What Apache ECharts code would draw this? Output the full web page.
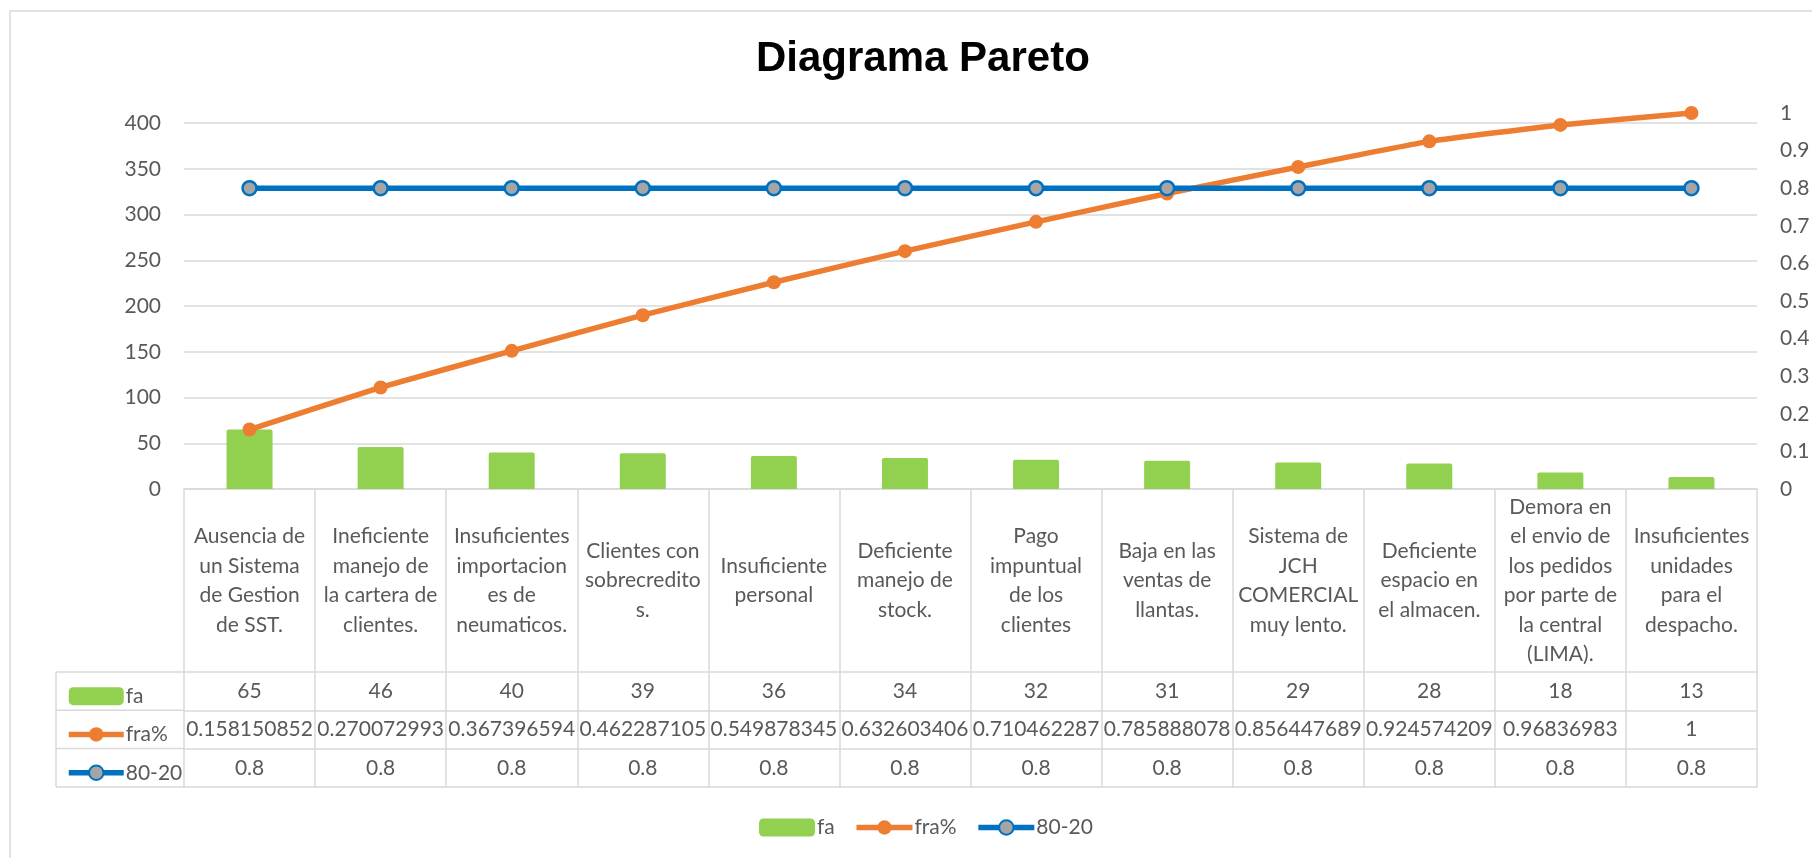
<!DOCTYPE html>
<html>
<head>
<meta charset="utf-8">
<title>Diagrama Pareto</title>
<script src="https://cdn.jsdelivr.net/npm/echarts@6/dist/echarts.min.js"></script>
<style>
    html, body { margin: 0; padding: 0; background: #fff; }
    #main { width: 1812px; height: 858px; }
</style>
</head>
<body>
<div id="main"></div>
<script>
// categorias, con los saltos de linea tal como salen en la tabla de Excel
const categorias = [
    'Ausencia de\nun Sistema\nde Gestion\nde SST.',
    'Ineficiente\nmanejo de\nla cartera de\nclientes.',
    'Insuficientes\nimportacion\nes de\nneumaticos.',
    'Clientes con\nsobrecredito\ns.',
    'Insuficiente\npersonal',
    'Deficiente\nmanejo de\nstock.',
    'Pago\nimpuntual\nde los\nclientes',
    'Baja en las\nventas de\nllantas.',
    'Sistema de\nJCH\nCOMERCIAL\nmuy lento.',
    'Deficiente\nespacio en\nel almacen.',
    'Demora en\nel envio de\nlos pedidos\npor parte de\nla central\n(LIMA).',
    'Insuficientes\nunidades\npara el\ndespacho.'
]
const fa = [65, 46, 40, 39, 36, 34, 32, 31, 29, 28, 18, 13]
const fraPct = [0.158150852, 0.270072993, 0.367396594, 0.462287105, 0.549878345, 0.632603406,
    0.710462287, 0.785888078, 0.856447689, 0.924574209, 0.96836983, 1]
const linea8020 = [0.8, 0.8, 0.8, 0.8, 0.8, 0.8, 0.8, 0.8, 0.8, 0.8, 0.8, 0.8]
const nombresSeries = ['fa', 'fra%', '80-20']

// el eje izquierdo llega hasta el total de fa (asi 1 del eje derecho = total)
const totalFa = fa.reduce((a, b) => a + b, 0)

const FUENTE = 'Lato, Roboto, sans-serif'
const GRIS = '#595959'
const BORDE = '#d9d9d9'
const GROSOR = 5.5

// medidas de la tabla de datos bajo el grafico
const gLeft = 184, gRight = 1757, gTop = 113, gBottom = 489
const tablaLeft = 56
const altoCat = 183      // celda de las categorias
const altoFila = 38.3    // filas fa / fra% / 80-20
const filas = [fa, fraPct, linea8020]

function ejeFila(offset, valores) {
    return {
        type: 'category',
        position: 'bottom',
        offset: offset,
        data: categorias,
        axisLine: { show: true, onZero: false, lineStyle: { color: BORDE, width: 1.5 } },
        axisTick: { show: false },
        axisLabel: {
            show: !!valores,
            interval: 0,
            margin: altoFila / 2,
            verticalAlign: 'middle',
            fontFamily: FUENTE,
            fontSize: 21,
            color: GRIS,
            formatter: (v, i) => valores ? String(valores[i]) : ''
        }
    }
}

const ejesTabla = filas.map((f, i) => ejeFila(altoCat + i * altoFila, f))
ejesTabla.push(ejeFila(altoCat + 3 * altoFila, null))

// lineas de la columna de nombres de la tabla
const lineasCabecera = []
for (let i = 0; i <= 3; i++) {
    const y = gBottom + altoCat + i * altoFila
    lineasCabecera.push({
        type: 'line',
        shape: { x1: tablaLeft, y1: y, x2: gLeft, y2: y },
        style: { stroke: BORDE, lineWidth: 1.5 }
    })
}
lineasCabecera.push({
    type: 'line',
    shape: { x1: tablaLeft, y1: gBottom + altoCat, x2: tablaLeft, y2: gBottom + altoCat + 3 * altoFila },
    style: { stroke: BORDE, lineWidth: 1.5 }
})

const chart = echarts.init(document.getElementById('main'), null, { renderer: 'canvas' })

const estiloLeyenda = {
    itemHeight: 18,
    selectedMode: false,
    data: nombresSeries,
    lineStyle: { width: GROSOR },
    textStyle: { fontFamily: FUENTE, fontSize: 21, color: GRIS, padding: [0, 0, 0, -3] }
}

const option = {
    animation: false,
    backgroundColor: '#fff',
    title: {
        text: 'Diagrama Pareto',
        left: 751,
        top: 33,
        textStyle: {
            fontFamily: '"Liberation Sans", Arial, sans-serif',
            fontSize: 42,
            fontWeight: 'bold',
            color: '#000'
        }
    },
    legend: [Object.assign({
        // leyenda dentro de la tabla
        orient: 'vertical',
        left: 61,
        top: gBottom + altoCat + altoFila / 2 - 10.5,
        itemWidth: 55,
        itemGap: altoFila - 21
    }, estiloLeyenda), Object.assign({
        // leyenda de abajo
        orient: 'horizontal',
        left: 754,
        top: 812,
        itemWidth: 56,
        itemGap: 19
    }, estiloLeyenda)],
    grid: {
        left: gLeft,
        right: 1812 - gRight,
        top: gTop,
        bottom: 858 - gBottom,
        containLabel: false,
        outerBoundsMode: 'none'
    },
    xAxis: [{
        type: 'category',
        position: 'bottom',
        data: categorias,
        axisLine: { show: true, onZero: false, lineStyle: { color: BORDE, width: 1.5 } },
        axisTick: {
            show: true,
            interval: 0,
            length: altoCat + 3 * altoFila,
            lineStyle: { color: BORDE, width: 1.5 }
        },
        axisLabel: {
            interval: 0,
            margin: altoCat / 2,
            verticalAlign: 'middle',
            align: 'center',
            lineHeight: 29.5,
            fontFamily: FUENTE,
            fontSize: 21,
            color: GRIS
        }
    }].concat(ejesTabla),
    yAxis: [{
        type: 'value',
        position: 'left',
        min: 0,
        max: totalFa,
        interval: 50,
        axisLine: { show: false },
        axisTick: { show: false },
        axisLabel: {
            showMaxLabel: false,
            margin: 23,
            fontFamily: FUENTE,
            fontSize: 21,
            color: GRIS
        },
        splitLine: {
            show: true,
            showMaxLine: false,
            lineStyle: { color: BORDE, width: 1.5 }
        }
    }, {
        type: 'value',
        position: 'right',
        min: 0,
        max: 1,
        interval: 0.1,
        axisLine: { show: false },
        axisTick: { show: false },
        splitLine: { show: false },
        axisLabel: {
            margin: 23,
            fontFamily: FUENTE,
            fontSize: 21,
            color: GRIS
        }
    }],
    series: [{
        name: 'fa',
        type: 'bar',
        xAxisIndex: 0,
        yAxisIndex: 0,
        data: fa,
        barWidth: 46,
        itemStyle: { color: '#92D050', borderRadius: [2, 2, 0, 0] }
    }, {
        name: 'fra%',
        type: 'line',
        xAxisIndex: 0,
        yAxisIndex: 1,
        data: fraPct,
        smooth: 0.15,
        symbol: 'circle',
        symbolSize: 14,
        lineStyle: { color: '#ED7D31', width: GROSOR },
        itemStyle: { color: '#ED7D31' }
    }, {
        name: '80-20',
        type: 'line',
        xAxisIndex: 0,
        yAxisIndex: 1,
        data: linea8020,
        symbol: 'circle',
        symbolSize: 14,
        lineStyle: { color: '#0070C0', width: GROSOR },
        itemStyle: { color: '#A5A5A5', borderColor: '#0070C0', borderWidth: 2.5 }
    }],
    graphic: [{
        type: 'rect',
        shape: { x: 10, y: 11, width: 1830, height: 900 },
        style: { fill: 'none', stroke: BORDE, lineWidth: 1.5 },
        silent: true
    }].concat(lineasCabecera)
}

chart.setOption(option)
</script>
</body>
</html>
